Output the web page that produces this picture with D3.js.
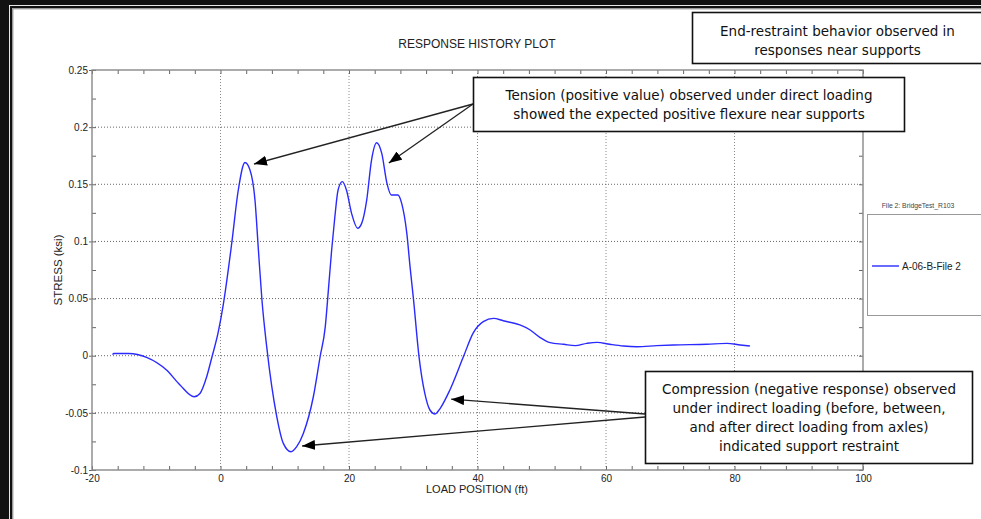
<!DOCTYPE html>
<html>
<head>
<meta charset="utf-8">
<script src="https://cdn.jsdelivr.net/npm/d3@7"></script>
<style>
  body { margin: 0; background: #111; overflow: hidden; }
  svg { display: block; }
</style>
</head>
<body>
<script>

// load position (ft) and stress (ksi)
var loadPos = [-16.8, -16.6, -14.3, -11.5, -8.4, -6.3, -4.1, -3.2, -2.15, -1.37, -0.34, 0.44,
  1.74, 2.77, 3.81, 4.59, 5.37, 5.9, 6.45, 7.19, 8.75, 9.78, 10.97, 11.86, 12.89, 14.45, 15.5,
  16.3, 16.8, 17.3, 17.8, 18.3, 18.96, 19.6, 20.4, 21.35, 21.97, 22.75, 23.5, 24.3, 25.1, 25.9,
  26.6, 27.6, 28.2, 29.0, 29.5, 30.05, 30.9, 31.8, 32.6, 33.4, 34.2, 35.7, 37.8, 39.3, 40.9,
  42.5, 44.0, 46.6, 48.2, 49.7, 51.3, 53.4, 55.2, 57.0, 58.6, 60.6, 62.7, 64.8, 67.9, 70.5,
  75.7, 78.8, 80.9, 82.4];
var stress = [0.001, 0.002, 0.002, -0.0014, -0.0125, -0.0256, -0.0359, -0.033, -0.0184, -0.002,
  0.021, 0.045, 0.098, 0.145, 0.169, 0.1625, 0.136, 0.0925, 0.0487, 0.0079, -0.053, -0.0767,
  -0.084, -0.0796, -0.068, -0.0359, -0.001, 0.025, 0.058, 0.0925, 0.1216, 0.145, 0.1523, 0.145,
  0.1246, 0.1115, 0.1158, 0.136, 0.171, 0.1864, 0.177, 0.151, 0.1406, 0.1406, 0.1333, 0.107,
  0.078, 0.0487, -0.001, -0.033, -0.0475, -0.051, -0.046, -0.030, -0.001, 0.0196, 0.0298,
  0.0327, 0.0306, 0.0269, 0.0225, 0.0161, 0.0114, 0.0100, 0.0088, 0.0108, 0.0117, 0.0100,
  0.0085, 0.0079, 0.0088, 0.0094, 0.0100, 0.0108, 0.0094, 0.0085];

var xTicks = [-20, 0, 20, 40, 60, 80, 100];
var yTicks = [-0.1, -0.05, 0, 0.05, 0.1, 0.15, 0.2, 0.25];
var yTickLabels = ["-0.1", "-0.05", "0", "0.05", "0.1", "0.15", "0.2", "0.25"];

var seriesName = "A-06-B-File 2";
var legendTitle = "File 2: BridgeTest_R103";

var noteEnd = ["End-restraint behavior observed in", "responses near supports"];
var noteTension = ["Tension (positive value) observed under direct loading",
  "showed the expected positive flexure near supports"];
var noteCompression = ["Compression (negative response) observed",
  "under indirect loading (before, between,", "and after direct loading from axles)",
  "indicated support restraint"];

// arrow targets in data units [load position, stress]
var tensionTargets = [[5.2, 0.1677], [26.2, 0.1686]];
var compressionTargets = [[35.9, -0.038], [12.7, -0.079]];

window.onload = function() {

  var W = 981, H = 519;
  var margin = {top: 70, left: 92};
  var width = 771, height = 400;

  var svg = d3.select("body").append("svg")
      .attr("width", W)
      .attr("height", H);

  // white panel with the double border
  svg.append("rect")
      .attr("x", 9).attr("y", 5)
      .attr("width", W).attr("height", H)
      .attr("fill", "#fff");
  svg.append("rect")
      .attr("x", 11).attr("y", 7)
      .attr("width", W).attr("height", H)
      .attr("fill", "none")
      .attr("stroke", "#111")
      .attr("stroke-width", 2.2);
  svg.append("rect")
      .attr("x", 12.8).attr("y", 8.8)
      .attr("width", W).attr("height", H)
      .attr("fill", "none")
      .attr("stroke", "#777")
      .attr("stroke-width", 1);

  var g = svg.append("g")
      .attr("transform", "translate(" + margin.left + "," + margin.top + ")");

  var xScale = d3.scaleLinear().domain([-20, 100]).range([0, width]);
  var yScale = d3.scaleLinear().domain([-0.1, 0.25]).range([height, 0]);

  // dotted grid on the major ticks
  g.selectAll(".vgrid")
      .data(xTicks.slice(1, -1))
      .enter()
      .append("line")
      .attr("x1", function(d) { return xScale(d); })
      .attr("x2", function(d) { return xScale(d); })
      .attr("y1", 0)
      .attr("y2", height)
      .attr("stroke", "#888")
      .attr("stroke-dasharray", "1,2");

  g.selectAll(".hgrid")
      .data(yTicks.slice(1, -1))
      .enter()
      .append("line")
      .attr("x1", 0)
      .attr("x2", width)
      .attr("y1", function(d) { return yScale(d); })
      .attr("y2", function(d) { return yScale(d); })
      .attr("stroke", "#666")
      .attr("stroke-dasharray", "1,2");

  // axes: ticks point inward on every side
  var minorX = d3.range(-20, 100.1, 4);
  var minorY = d3.range(-0.1, 0.2501, 0.025);

  var xAxis = d3.axisBottom(xScale).tickValues(xTicks).tickSize(0).tickPadding(5)
      .tickFormat(function(d) { return d; });
  var yAxis = d3.axisLeft(yScale).tickValues(yTicks).tickSize(0).tickPadding(4)
      .tickFormat(function(d, i) { return yTickLabels[i]; });

  g.append("g")
      .attr("transform", "translate(0," + height + ")")
      .call(xAxis)
      .call(function(s) { s.select(".domain").remove(); });
  g.append("g")
      .call(yAxis)
      .call(function(s) { s.select(".domain").remove(); });

  g.selectAll(".tick text")
      .attr("font-family", "Liberation Sans, Arial, sans-serif")
      .attr("font-size", "10px")
      .attr("fill", "#222");

  g.append("g").call(d3.axisBottom(xScale).tickValues(minorX).tickSize(-4).tickFormat(""))
      .attr("transform", "translate(0," + height + ")");
  g.append("g").call(d3.axisTop(xScale).tickValues(minorX).tickSize(-4).tickFormat(""));
  g.append("g").call(d3.axisLeft(yScale).tickValues(minorY).tickSize(-4).tickFormat(""));
  g.append("g").call(d3.axisRight(yScale).tickValues(minorY).tickSize(-4).tickFormat(""))
      .attr("transform", "translate(" + width + ",0)");

  // short outer marks on the major ticks of the left axis
  g.append("g").call(d3.axisLeft(yScale).tickValues(yTicks).tickSize(3).tickFormat(""));

  g.selectAll(".domain").remove();
  g.selectAll(".tick line").attr("stroke", "#666");

  g.append("rect")
      .attr("width", width)
      .attr("height", height)
      .attr("fill", "none")
      .attr("stroke", "#888")
      .attr("stroke-width", 1.4);

  // response curve
  var points = loadPos.map(function(x, i) { return [x, stress[i]]; });
  var line = d3.line()
      .x(function(d) { return xScale(d[0]); })
      .y(function(d) { return yScale(d[1]); })
      .curve(d3.curveMonotoneX);

  g.append("path")
      .datum(points)
      .attr("d", line)
      .attr("fill", "none")
      .attr("stroke", "#2a2aff")
      .attr("stroke-width", 1.4);

  // titles
  var sans = "Liberation Sans, Arial, sans-serif";
  svg.append("text")
      .attr("x", 477).attr("y", 48)
      .attr("text-anchor", "middle")
      .attr("font-family", sans).attr("font-size", "12px")
      .attr("fill", "#222")
      .text("RESPONSE HISTORY PLOT");
  svg.append("text")
      .attr("x", 477).attr("y", 493)
      .attr("text-anchor", "middle")
      .attr("font-family", sans).attr("font-size", "11px")
      .attr("fill", "#222")
      .text("LOAD POSITION (ft)");
  svg.append("text")
      .attr("transform", "translate(62,270) rotate(-90)")
      .attr("text-anchor", "middle")
      .attr("font-family", sans).attr("font-size", "11.5px")
      .attr("fill", "#222")
      .text("STRESS (ksi)");

  // legend
  svg.append("text")
      .attr("x", 918).attr("y", 208)
      .attr("text-anchor", "middle")
      .attr("font-family", sans).attr("font-size", "6.8px")
      .attr("fill", "#444")
      .text(legendTitle);
  svg.append("rect")
      .attr("x", 867.5).attr("y", 214.5)
      .attr("width", 130).attr("height", 101)
      .attr("fill", "#fff")
      .attr("stroke", "#999");
  svg.append("line")
      .attr("x1", 872).attr("x2", 899)
      .attr("y1", 266).attr("y2", 266)
      .attr("stroke", "#2a2aff")
      .attr("stroke-width", 1.4);
  svg.append("text")
      .attr("x", 902).attr("y", 269.5)
      .attr("font-family", sans).attr("font-size", "10px")
      .attr("fill", "#222")
      .text(seriesName);

  // arrowhead marker
  svg.append("defs").append("marker")
      .attr("id", "head")
      .attr("viewBox", "0 0 13 10")
      .attr("refX", 13).attr("refY", 5)
      .attr("markerWidth", 13).attr("markerHeight", 10)
      .attr("markerUnits", "userSpaceOnUse")
      .attr("orient", "auto")
      .append("path")
      .attr("d", "M0,0L13,5L0,10Z")
      .attr("fill", "#000");

  function arrow(x0, y0, target) {
    svg.append("line")
        .attr("x1", x0).attr("y1", y0)
        .attr("x2", margin.left + xScale(target[0]))
        .attr("y2", margin.top + yScale(target[1]))
        .attr("stroke", "#222")
        .attr("stroke-width", 1.3)
        .attr("marker-end", "url(#head)");
  }

  tensionTargets.forEach(function(t) { arrow(473, 104, t); });
  arrow(645, 414, compressionTargets[0]);
  arrow(645, 417, compressionTargets[1]);

  // annotation boxes
  function note(x, y, w, h, lines, cy) {
    svg.append("rect")
        .attr("x", x + 0.5).attr("y", y + 0.5)
        .attr("width", w).attr("height", h)
        .attr("fill", "#fff")
        .attr("stroke", "#111")
        .attr("stroke-width", 1.6);
    var start = cy - (lines.length - 1) * 19 / 2;
    lines.forEach(function(t, i) {
      svg.append("text")
          .attr("x", x + w / 2 + 0.5)
          .attr("y", start + i * 19 + 5)
          .attr("text-anchor", "middle")
          .attr("font-family", "DejaVu Sans, sans-serif")
          .attr("font-size", "13.5px")
          .attr("fill", "#111")
          .text(t);
    });
  }

  note(692, 12, 290, 51, noteEnd, 40);
  note(473, 77, 431, 54, noteTension, 104.5);
  note(645, 371, 327, 92, noteCompression, 417.5);

};
</script>
</body>
</html>
